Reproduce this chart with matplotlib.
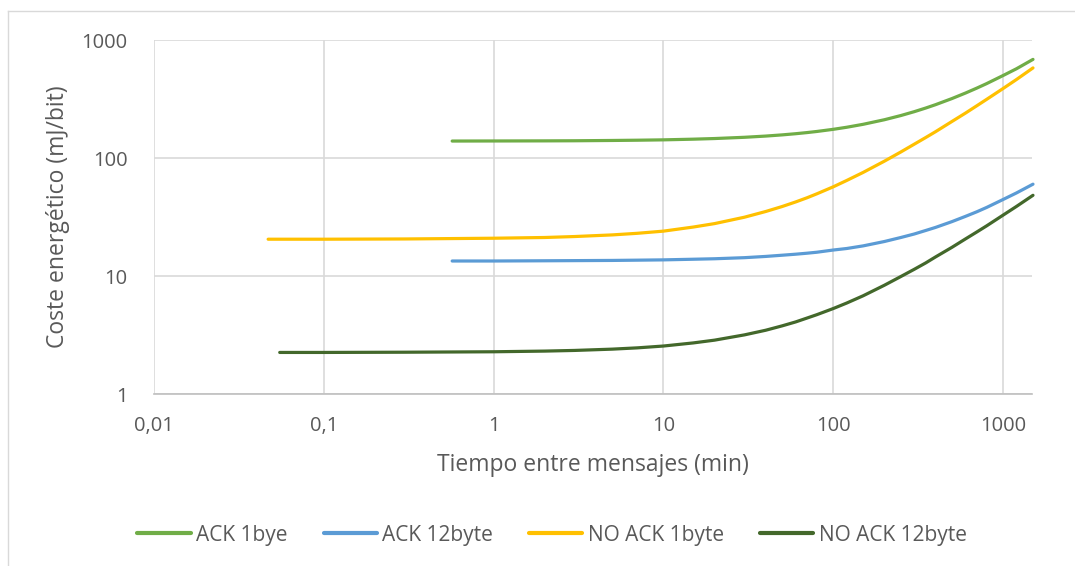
import matplotlib
matplotlib.use("Agg")
import matplotlib.pyplot as plt
from matplotlib.ticker import FixedLocator, NullLocator
from matplotlib.lines import Line2D

plt.rcParams['font.family'] = ['Open Sans', 'DejaVu Sans']

# Data (minutes, mJ/bit)
x_ack1 = [0.57, 1, 2, 3, 5, 7, 10, 15, 20, 30, 40, 50, 60, 70, 80, 100, 120, 150, 200, 250, 300, 350, 400, 500, 600, 700, 800, 1000, 1200, 1500]
y_ack1 = [139.2, 139.4, 139.7, 140.0, 140.8, 141.5, 142.5, 144.4, 146.2, 149.8, 153.4, 157.0, 160.6, 164.2, 167.8, 175.0, 182.2, 193.0, 211.0, 229.0, 247.0, 265.0, 283.0, 319.0, 355.0, 391.0, 427.0, 500.0, 571.0, 685.0]

x_ack12 = [0.57, 1, 2, 3, 5, 7, 10, 15, 20, 30, 40, 50, 60, 70, 80, 100, 120, 150, 200, 250, 300, 350, 400, 500, 600, 700, 800, 1000, 1200, 1500]
y_ack12 = [13.4, 13.4, 13.46, 13.5, 13.55, 13.62, 13.7, 13.87, 14.0, 14.3, 14.65, 15.0, 15.3, 15.6, 15.9, 16.6, 17.1, 18.0, 19.6, 21.2, 22.7, 24.3, 25.8, 28.9, 32.0, 35.0, 38.1, 44.5, 50.6, 60.0]

x_noack1 = [0.047, 0.1, 0.3, 1, 2, 3, 5, 7, 10, 15, 20, 30, 40, 50, 60, 70, 80, 100, 120, 150, 200, 250, 300, 350, 400, 500, 600, 700, 800, 1000, 1200, 1500]
y_noack1 = [20.5, 20.5, 20.6, 20.9, 21.2, 21.6, 22.3, 23.0, 24.0, 26.0, 27.8, 31.5, 35.2, 38.8, 42.4, 46.0, 49.7, 57.0, 64.5, 75.5, 94.0, 112.5, 131.0, 149.0, 167.0, 204.0, 240.0, 277.0, 314.0, 388.0, 463.0, 580.0]

x_noack12 = [0.055, 0.1, 0.3, 1, 2, 3, 5, 7, 10, 15, 20, 30, 40, 50, 60, 70, 80, 100, 120, 150, 200, 250, 300, 350, 400, 500, 600, 700, 800, 1000, 1200, 1500]
y_noack12 = [2.25, 2.25, 2.26, 2.28, 2.31, 2.34, 2.40, 2.46, 2.55, 2.71, 2.86, 3.17, 3.47, 3.78, 4.08, 4.4, 4.7, 5.3, 5.9, 6.8, 8.35, 9.9, 11.4, 12.9, 14.5, 17.5, 20.6, 23.6, 26.6, 32.8, 38.9, 48.3]

series_names = ["ACK 1bye", "ACK 12byte", "NO ACK 1byte", "NO ACK 12byte"]
series_colors = ["#70AD47", "#5B9BD5", "#FFC000", "#43682B"]

x_ticks = [0.01, 0.1, 1, 10, 100, 1000]
x_tick_labels = ["0,01", "0,1", "1", "10", "100", "1000"]
y_ticks = [1, 10, 100, 1000]
y_tick_labels = ["1", "10", "100", "1000"]

text_color = "#595959"
grid_color = "#D9D9D9"

W, H = 1075, 566
fig = plt.figure(figsize=(W / 100, H / 100), dpi=100)
# outer chart border (left and top edges visible in the reference)
fig.lines.append(Line2D([8 / W, 8 / W], [0, 1 - 11 / H], transform=fig.transFigure,
                        color="#D9D9D9", linewidth=1.0))
fig.lines.append(Line2D([8 / W, 1], [1 - 11 / H, 1 - 11 / H], transform=fig.transFigure,
                        color="#D9D9D9", linewidth=1.0))

ax = fig.add_axes([154 / W, 1 - 394 / H, (1032 - 154) / W, (394 - 40) / H])

xs = [x_ack1, x_ack12, x_noack1, x_noack12]
ys = [y_ack1, y_ack12, y_noack1, y_noack12]
for xv, yv, name, col in zip(xs, ys, series_names, series_colors):
    ax.plot(xv, yv, color=col, linewidth=2.3, label=name,
            solid_capstyle='round', solid_joinstyle='round', clip_on=False)

ax.set_xscale('log')
ax.set_yscale('log')
ax.set_xlim(0.01, 1480)
ax.set_ylim(1, 1000)

ax.xaxis.set_major_locator(FixedLocator(x_ticks))
ax.xaxis.set_minor_locator(NullLocator())
ax.set_xticks(x_ticks)
ax.set_xticklabels(x_tick_labels)
ax.yaxis.set_major_locator(FixedLocator(y_ticks))
ax.yaxis.set_minor_locator(NullLocator())
ax.set_yticks(y_ticks)
ax.set_yticklabels(y_tick_labels)

ax.grid(True, which='major', color=grid_color, linewidth=1.2)
ax.set_axisbelow(True)
for s in ['top', 'right', 'left']:
    ax.spines[s].set_visible(False)
ax.spines['bottom'].set_color("#BFBFBF")
ax.spines['bottom'].set_linewidth(1.2)
ax.tick_params(axis='both', length=0, colors=text_color, labelsize=14.5)
ax.tick_params(axis='x', pad=16)
ax.tick_params(axis='y', pad=19)

xl = ax.set_xlabel("Tiempo entre mensajes (min)", color=text_color, fontsize=16.5)
xl.set_va('center')
ax.xaxis.set_label_coords(0.5, (394 - 465) / 354)
yl = ax.set_ylabel("Coste energético (mJ/bit)", color=text_color, fontsize=16.5)
yl.set_va('center')
yl.set_ha('center')
ax.yaxis.set_label_coords((58 - 154) / 878, 0.5)

leg = fig.legend(loc='center', bbox_to_anchor=(0.5135, 1 - 535 / H), ncol=4, frameon=False,
                 fontsize=15, handlelength=2.55, columnspacing=1.75, handletextpad=0.25)
for t in leg.get_texts():
    t.set_color(text_color)
for h in leg.get_lines():
    h.set_linewidth(3)

fig.savefig("out.png", dpi=100)
